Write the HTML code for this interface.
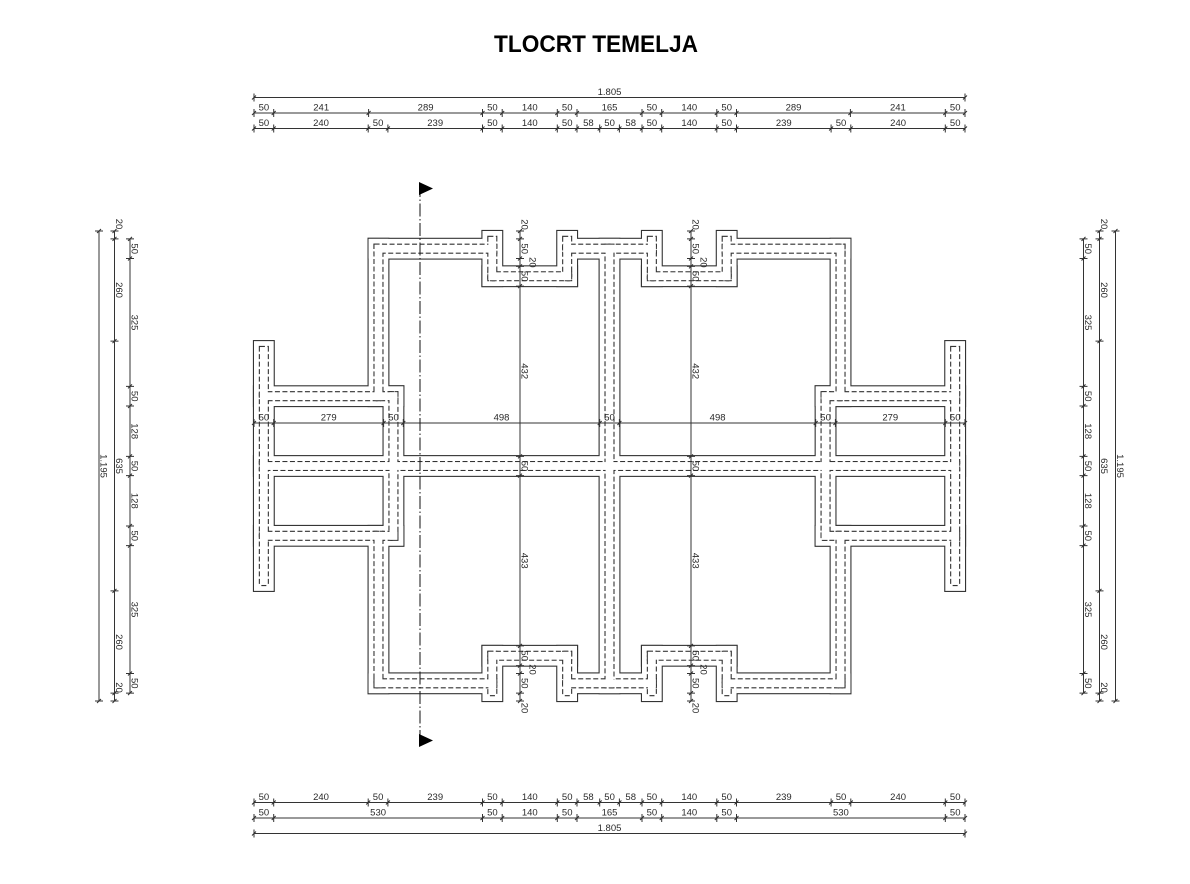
<!DOCTYPE html>
<html><head><meta charset="utf-8"><style>
html,body{margin:0;padding:0;background:#fff;}
svg{display:block;}
text{font-family:"Liberation Sans",Arial,sans-serif;font-size:9.5px;fill:#2a2a2a;}
.t{font-size:24px;font-weight:bold;fill:#000;}
</style></head><body>
<svg width="1190" height="884" viewBox="0 0 1190 884" xmlns="http://www.w3.org/2000/svg">
<defs>
<g id="F">
<rect x="291" y="20" width="289" height="50"/>
<rect x="820" y="20" width="165" height="50"/>
<rect x="1225" y="20" width="289" height="50"/>
<rect x="580" y="0" width="50" height="140"/>
<rect x="770" y="0" width="50" height="140"/>
<rect x="580" y="90" width="240" height="50"/>
<rect x="985" y="0" width="50" height="140"/>
<rect x="1175" y="0" width="50" height="140"/>
<rect x="985" y="90" width="240" height="50"/>
<rect x="291" y="1125" width="289" height="50"/>
<rect x="820" y="1125" width="165" height="50"/>
<rect x="1225" y="1125" width="289" height="50"/>
<rect x="580" y="1055" width="50" height="140"/>
<rect x="770" y="1055" width="50" height="140"/>
<rect x="580" y="1055" width="240" height="50"/>
<rect x="985" y="1055" width="50" height="140"/>
<rect x="1175" y="1055" width="50" height="140"/>
<rect x="985" y="1055" width="240" height="50"/>
<rect x="291" y="20" width="50" height="425"/>
<rect x="291" y="750" width="50" height="425"/>
<rect x="329" y="395" width="50" height="405"/>
<rect x="0" y="395" width="379" height="50"/>
<rect x="0" y="750" width="379" height="50"/>
<rect x="0" y="280" width="50" height="635"/>
<rect x="1464" y="20" width="50" height="425"/>
<rect x="1464" y="750" width="50" height="425"/>
<rect x="1426" y="395" width="50" height="405"/>
<rect x="1426" y="395" width="379" height="50"/>
<rect x="1426" y="750" width="379" height="50"/>
<rect x="1755" y="280" width="50" height="635"/>
<rect x="0" y="572.5" width="1805" height="50"/>
<rect x="877.5" y="20" width="50" height="1155"/>
</g>
<g id="W">
<rect x="306" y="35" width="309" height="20"/>
<rect x="785" y="35" width="235" height="20"/>
<rect x="1190" y="35" width="309" height="20"/>
<rect x="595" y="15" width="20" height="110"/>
<rect x="785" y="15" width="20" height="110"/>
<rect x="595" y="105" width="210" height="20"/>
<rect x="1000" y="15" width="20" height="110"/>
<rect x="1190" y="15" width="20" height="110"/>
<rect x="1000" y="105" width="210" height="20"/>
<rect x="306" y="1140" width="309" height="20"/>
<rect x="785" y="1140" width="235" height="20"/>
<rect x="1190" y="1140" width="309" height="20"/>
<rect x="595" y="1070" width="20" height="110"/>
<rect x="785" y="1070" width="20" height="110"/>
<rect x="595" y="1070" width="210" height="20"/>
<rect x="1000" y="1070" width="20" height="110"/>
<rect x="1190" y="1070" width="20" height="110"/>
<rect x="1000" y="1070" width="210" height="20"/>
<rect x="306" y="35" width="20" height="395"/>
<rect x="306" y="765" width="20" height="395"/>
<rect x="344" y="410" width="20" height="375"/>
<rect x="15" y="410" width="349" height="20"/>
<rect x="15" y="765" width="349" height="20"/>
<rect x="15" y="295" width="20" height="605"/>
<rect x="1479" y="35" width="20" height="395"/>
<rect x="1479" y="765" width="20" height="395"/>
<rect x="1441" y="410" width="20" height="375"/>
<rect x="1441" y="410" width="349" height="20"/>
<rect x="1441" y="765" width="349" height="20"/>
<rect x="1770" y="295" width="20" height="605"/>
<rect x="15" y="587.5" width="1775" height="20"/>
<rect x="892.5" y="35" width="20" height="1125"/>
</g>
</defs>

<text class="t" x="596" y="52" text-anchor="middle" textLength="204" lengthAdjust="spacingAndGlyphs">TLOCRT TEMELJA</text>

<g transform="translate(254,231) scale(0.39391,0.39331)">
<use href="#F" fill="none" stroke="#333" stroke-width="5.6"/>
<use href="#F" fill="#fff" stroke="none"/>
<use href="#W" fill="none" stroke="#333" stroke-width="5.6" stroke-dasharray="12.7 6.35"/>
<use href="#W" fill="#fff" stroke="none"/>
</g>

<g fill="none" stroke="#333" stroke-width="1">
<!-- top total -->
<path d="M254,97.5H965 M254,93.5V101.5M252,99.5L256,95.5 M965,93.5V101.5M963,99.5L967,95.5"/>
<!-- top row 2 -->
<path d="M254,113H965 M254,109V117M252,115L256,111 M273.7,109V117M271.7,115L275.7,111 M368.6,109V117M366.6,115L370.6,111 M482.5,109V117M480.5,115L484.5,111 M502.2,109V117M500.2,115L504.2,111 M557.3,109V117M555.3,115L559.3,111 M577,109V117M575,115L579,111 M642,109V117M640,115L644,111 M661.7,109V117M659.7,115L663.7,111 M716.8,109V117M714.8,115L718.8,111 M736.5,109V117M734.5,115L738.5,111 M850.4,109V117M848.4,115L852.4,111 M945.3,109V117M943.3,115L947.3,111 M965,109V117M963,115L967,111"/>
<!-- top row 3 -->
<path d="M254,128.5H965 M254,124.5V132.5M252,130.5L256,126.5 M273.7,124.5V132.5M271.7,130.5L275.7,126.5 M368.2,124.5V132.5M366.2,130.5L370.2,126.5 M387.9,124.5V132.5M385.9,130.5L389.9,126.5 M482.5,124.5V132.5M480.5,130.5L484.5,126.5 M502.2,124.5V132.5M500.2,130.5L504.2,126.5 M557.3,124.5V132.5M555.3,130.5L559.3,126.5 M577,124.5V132.5M575,130.5L579,126.5 M599.7,124.5V132.5M597.7,130.5L601.7,126.5 M619.4,124.5V132.5M617.4,130.5L621.4,126.5 M642,124.5V132.5M640,130.5L644,126.5 M661.7,124.5V132.5M659.7,130.5L663.7,126.5 M716.8,124.5V132.5M714.8,130.5L718.8,126.5 M736.5,124.5V132.5M734.5,130.5L738.5,126.5 M831.1,124.5V132.5M829.1,130.5L833.1,126.5 M850.8,124.5V132.5M848.8,130.5L852.8,126.5 M945.3,124.5V132.5M943.3,130.5L947.3,126.5 M965,124.5V132.5M963,130.5L967,126.5"/>
<!-- bottom row 1 -->
<path d="M254,802.5H965 M254,798.5V806.5M252,804.5L256,800.5 M273.7,798.5V806.5M271.7,804.5L275.7,800.5 M368.2,798.5V806.5M366.2,804.5L370.2,800.5 M387.9,798.5V806.5M385.9,804.5L389.9,800.5 M482.5,798.5V806.5M480.5,804.5L484.5,800.5 M502.2,798.5V806.5M500.2,804.5L504.2,800.5 M557.3,798.5V806.5M555.3,804.5L559.3,800.5 M577,798.5V806.5M575,804.5L579,800.5 M599.7,798.5V806.5M597.7,804.5L601.7,800.5 M619.4,798.5V806.5M617.4,804.5L621.4,800.5 M642,798.5V806.5M640,804.5L644,800.5 M661.7,798.5V806.5M659.7,804.5L663.7,800.5 M716.8,798.5V806.5M714.8,804.5L718.8,800.5 M736.5,798.5V806.5M734.5,804.5L738.5,800.5 M831.1,798.5V806.5M829.1,804.5L833.1,800.5 M850.8,798.5V806.5M848.8,804.5L852.8,800.5 M945.3,798.5V806.5M943.3,804.5L947.3,800.5 M965,798.5V806.5M963,804.5L967,800.5"/>
<!-- bottom row 2 -->
<path d="M254,818H965 M254,814V822M252,820L256,816 M273.7,814V822M271.7,820L275.7,816 M482.5,814V822M480.5,820L484.5,816 M502.2,814V822M500.2,820L504.2,816 M557.3,814V822M555.3,820L559.3,816 M577,814V822M575,820L579,816 M642,814V822M640,820L644,816 M661.7,814V822M659.7,820L663.7,816 M716.8,814V822M714.8,820L718.8,816 M736.5,814V822M734.5,820L738.5,816 M945.3,814V822M943.3,820L947.3,816 M965,814V822M963,820L967,816"/>
<!-- bottom total -->
<path d="M254,833.5H965 M254,829.5V837.5M252,835.5L256,831.5 M965,829.5V837.5M963,835.5L967,831.5"/>
<!-- inner horizontal -->
<path d="M254,423H965 M254,419V427M252,425L256,421 M273.7,419V427M271.7,425L275.7,421 M383.6,419V427M381.6,425L385.6,421 M403.3,419V427M401.3,425L405.3,421 M599.7,419V427M597.7,425L601.7,421 M619.4,419V427M617.4,425L621.4,421 M815.7,419V427M813.7,425L817.7,421 M835.4,419V427M833.4,425L837.4,421 M945.3,419V427M943.3,425L947.3,421 M965,419V427M963,425L967,421"/>
<!-- left x=130 -->
<path d="M130,238.9V693.1 M126,238.9H134M128,240.9L132,236.9 M126,258.5H134M128,260.5L132,256.5 M126,386.4H134M128,388.4L132,384.4 M126,406H134M128,408L132,404 M126,456.4H134M128,458.4L132,454.4 M126,475.6H134M128,477.6L132,473.6 M126,526H134M128,528L132,524 M126,545.6H134M128,547.6L132,543.6 M126,673.5H134M128,675.5L132,671.5 M126,693.1H134M128,695.1L132,691.1"/>
<!-- left x=114.5 -->
<path d="M114.5,231V701 M110.5,231H118.5M112.5,233L116.5,229 M110.5,238.9H118.5M112.5,240.9L116.5,236.9 M110.5,341.1H118.5M112.5,343.1L116.5,339.1 M110.5,590.9H118.5M112.5,592.9L116.5,588.9 M110.5,693.1H118.5M112.5,695.1L116.5,691.1 M110.5,701H118.5M112.5,703L116.5,699"/>
<!-- left x=99 -->
<path d="M99,231V701 M95,231H103M97,233L101,229 M95,701H103M97,703L101,699"/>
<!-- right x=1083.5 -->
<path d="M1083.5,238.9V693.1 M1079.5,238.9H1087.5M1081.5,240.9L1085.5,236.9 M1079.5,258.5H1087.5M1081.5,260.5L1085.5,256.5 M1079.5,386.4H1087.5M1081.5,388.4L1085.5,384.4 M1079.5,406H1087.5M1081.5,408L1085.5,404 M1079.5,456.4H1087.5M1081.5,458.4L1085.5,454.4 M1079.5,475.6H1087.5M1081.5,477.6L1085.5,473.6 M1079.5,526H1087.5M1081.5,528L1085.5,524 M1079.5,545.6H1087.5M1081.5,547.6L1085.5,543.6 M1079.5,673.5H1087.5M1081.5,675.5L1085.5,671.5 M1079.5,693.1H1087.5M1081.5,695.1L1085.5,691.1"/>
<!-- right x=1099.5 -->
<path d="M1099.5,231V701 M1095.5,231H1103.5M1097.5,233L1101.5,229 M1095.5,238.9H1103.5M1097.5,240.9L1101.5,236.9 M1095.5,341.1H1103.5M1097.5,343.1L1101.5,339.1 M1095.5,590.9H1103.5M1097.5,592.9L1101.5,588.9 M1095.5,693.1H1103.5M1097.5,695.1L1101.5,691.1 M1095.5,701H1103.5M1097.5,703L1101.5,699"/>
<!-- right x=1115.5 -->
<path d="M1115.5,231V701 M1111.5,231H1119.5M1113.5,233L1117.5,229 M1111.5,701H1119.5M1113.5,703L1117.5,699"/>
<!-- inner x=520 -->
<path d="M520,231V701 M516,231H524M518,233L522,229 M516,238.9H524M518,240.9L522,236.9 M516,258.5H524M518,260.5L522,256.5 M516,266.4H524M518,268.4L522,264.4 M516,286.1H524M518,288.1L522,284.1 M516,456.4H524M518,458.4L522,454.4 M516,475.6H524M518,477.6L522,473.6 M516,645.9H524M518,647.9L522,643.9 M516,665.6H524M518,667.6L522,663.6 M516,673.5H524M518,675.5L522,671.5 M516,693.1H524M518,695.1L522,691.1 M516,701H524M518,703L522,699"/>
<!-- inner x=691 -->
<path d="M691,231V701 M687,231H695M689,233L693,229 M687,238.9H695M689,240.9L693,236.9 M687,258.5H695M689,260.5L693,256.5 M687,266.4H695M689,268.4L693,264.4 M687,286.1H695M689,288.1L693,284.1 M687,456.4H695M689,458.4L693,454.4 M687,475.6H695M689,477.6L693,473.6 M687,645.9H695M689,647.9L693,643.9 M687,665.6H695M689,667.6L693,663.6 M687,673.5H695M689,675.5L693,671.5 M687,693.1H695M689,695.1L693,691.1 M687,701H695M689,703L693,699"/>
</g>

<!-- section line -->
<path d="M420,184V746" fill="none" stroke="#111" stroke-width="1" stroke-dasharray="13 2.5 1.5 2.5"/>
<polygon points="419,182 419,195 433,188.5" fill="#000"/>
<polygon points="419,734 419,747 433,740.5" fill="#000"/>

<g text-anchor="middle">
<!-- top -->
<text x="609.5" y="95">1.805</text>
<text x="263.9" y="110.5">50</text><text x="321.2" y="110.5">241</text><text x="425.6" y="110.5">289</text><text x="492.4" y="110.5">50</text><text x="529.8" y="110.5">140</text><text x="567.2" y="110.5">50</text><text x="609.5" y="110.5">165</text><text x="651.9" y="110.5">50</text><text x="689.3" y="110.5">140</text><text x="726.7" y="110.5">50</text><text x="793.5" y="110.5">289</text><text x="897.9" y="110.5">241</text><text x="955.2" y="110.5">50</text>
<text x="263.9" y="126">50</text><text x="321" y="126">240</text><text x="378.1" y="126">50</text><text x="435.2" y="126">239</text><text x="492.4" y="126">50</text><text x="529.8" y="126">140</text><text x="567.2" y="126">50</text><text x="588.4" y="126">58</text><text x="609.6" y="126">50</text><text x="630.7" y="126">58</text><text x="651.9" y="126">50</text><text x="689.3" y="126">140</text><text x="726.7" y="126">50</text><text x="783.8" y="126">239</text><text x="841" y="126">50</text><text x="898.1" y="126">240</text><text x="955.2" y="126">50</text>
<!-- bottom -->
<text x="263.9" y="800">50</text><text x="321" y="800">240</text><text x="378.1" y="800">50</text><text x="435.2" y="800">239</text><text x="492.4" y="800">50</text><text x="529.8" y="800">140</text><text x="567.2" y="800">50</text><text x="588.4" y="800">58</text><text x="609.6" y="800">50</text><text x="630.7" y="800">58</text><text x="651.9" y="800">50</text><text x="689.3" y="800">140</text><text x="726.7" y="800">50</text><text x="783.8" y="800">239</text><text x="841" y="800">50</text><text x="898.1" y="800">240</text><text x="955.2" y="800">50</text>
<text x="263.9" y="815.5">50</text><text x="378.1" y="815.5">530</text><text x="492.4" y="815.5">50</text><text x="529.8" y="815.5">140</text><text x="567.2" y="815.5">50</text><text x="609.5" y="815.5">165</text><text x="651.9" y="815.5">50</text><text x="689.3" y="815.5">140</text><text x="726.7" y="815.5">50</text><text x="840.9" y="815.5">530</text><text x="955.2" y="815.5">50</text>
<text x="609.5" y="831">1.805</text>
<!-- inner horizontal -->
<text x="263.9" y="420.5">50</text><text x="328.7" y="420.5">279</text><text x="393.5" y="420.5">50</text><text x="501.5" y="420.5">498</text><text x="609.5" y="420.5">50</text><text x="717.6" y="420.5">498</text><text x="825.6" y="420.5">50</text><text x="890.3" y="420.5">279</text><text x="955.2" y="420.5">50</text>

<!-- left verticals -->
<text transform="translate(131.5,248.7) rotate(90)">50</text>
<text transform="translate(131.5,322.5) rotate(90)">325</text>
<text transform="translate(131.5,396.2) rotate(90)">50</text>
<text transform="translate(131.5,431.2) rotate(90)">128</text>
<text transform="translate(131.5,466) rotate(90)">50</text>
<text transform="translate(131.5,500.8) rotate(90)">128</text>
<text transform="translate(131.5,535.8) rotate(90)">50</text>
<text transform="translate(131.5,609.5) rotate(90)">325</text>
<text transform="translate(131.5,683.3) rotate(90)">50</text>
<text transform="translate(116,224) rotate(90)">20</text>
<text transform="translate(116,290) rotate(90)">260</text>
<text transform="translate(116,466) rotate(90)">635</text>
<text transform="translate(116,642) rotate(90)">260</text>
<text transform="translate(116,687.5) rotate(90)">20</text>
<text transform="translate(100.5,466) rotate(90)">1.195</text>

<!-- right verticals -->
<text transform="translate(1085,248.7) rotate(90)">50</text>
<text transform="translate(1085,322.5) rotate(90)">325</text>
<text transform="translate(1085,396.2) rotate(90)">50</text>
<text transform="translate(1085,431.2) rotate(90)">128</text>
<text transform="translate(1085,466) rotate(90)">50</text>
<text transform="translate(1085,500.8) rotate(90)">128</text>
<text transform="translate(1085,535.8) rotate(90)">50</text>
<text transform="translate(1085,609.5) rotate(90)">325</text>
<text transform="translate(1085,683.3) rotate(90)">50</text>
<text transform="translate(1101,224) rotate(90)">20</text>
<text transform="translate(1101,290) rotate(90)">260</text>
<text transform="translate(1101,466) rotate(90)">635</text>
<text transform="translate(1101,642) rotate(90)">260</text>
<text transform="translate(1101,687.5) rotate(90)">20</text>
<text transform="translate(1117,466) rotate(90)">1.195</text>

<!-- inner vertical x=520 -->
<text transform="translate(521.5,224.5) rotate(90)">20</text>
<text transform="translate(521.5,248.7) rotate(90)">50</text>
<text transform="translate(529.5,262.4) rotate(90)">20</text>
<text transform="translate(521.5,276.2) rotate(90)">50</text>
<text transform="translate(521.5,371.2) rotate(90)">432</text>
<text transform="translate(521.5,466) rotate(90)">50</text>
<text transform="translate(521.5,560.7) rotate(90)">433</text>
<text transform="translate(521.5,655.7) rotate(90)">50</text>
<text transform="translate(529.5,669.5) rotate(90)">20</text>
<text transform="translate(521.5,683.3) rotate(90)">50</text>
<text transform="translate(521.5,708) rotate(90)">20</text>

<!-- inner vertical x=691 -->
<text transform="translate(692.5,224.5) rotate(90)">20</text>
<text transform="translate(692.5,248.7) rotate(90)">50</text>
<text transform="translate(700.5,262.4) rotate(90)">20</text>
<text transform="translate(692.5,276.2) rotate(90)">50</text>
<text transform="translate(692.5,371.2) rotate(90)">432</text>
<text transform="translate(692.5,466) rotate(90)">50</text>
<text transform="translate(692.5,560.7) rotate(90)">433</text>
<text transform="translate(692.5,655.7) rotate(90)">50</text>
<text transform="translate(700.5,669.5) rotate(90)">20</text>
<text transform="translate(692.5,683.3) rotate(90)">50</text>
<text transform="translate(692.5,708) rotate(90)">20</text>
</g>
</svg>
</body></html>
